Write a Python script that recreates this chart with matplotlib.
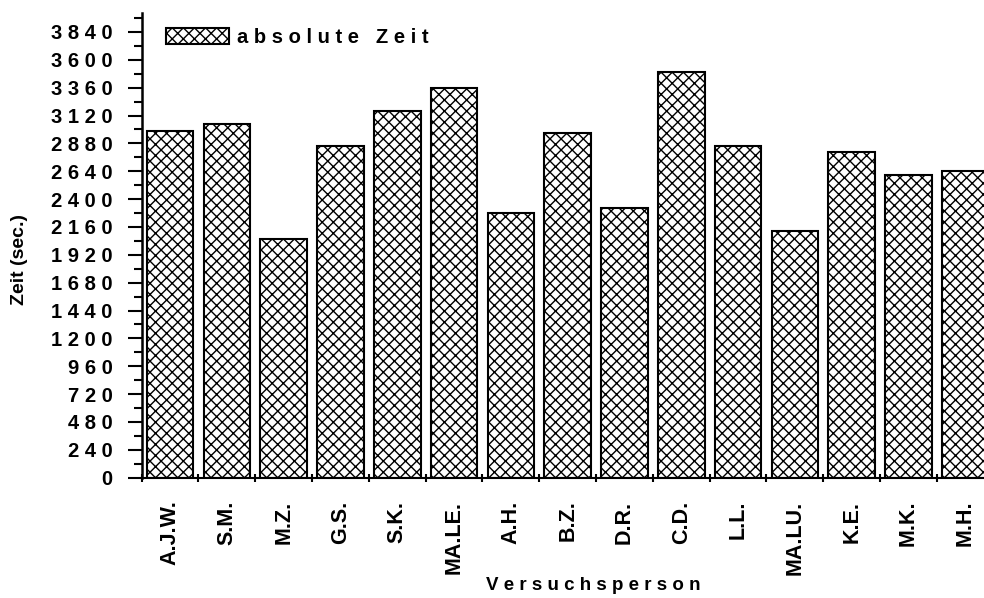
import numpy as np
import matplotlib
matplotlib.use("Agg")
import matplotlib.pyplot as plt
from matplotlib.ticker import MultipleLocator, FixedLocator

plt.rcParams['font.family'] = ['Liberation Sans', 'DejaVu Sans']
plt.rcParams['font.weight'] = 'bold'
plt.rcParams['hatch.linewidth'] = 1.0

# Daten: absolute Zeit je Versuchsperson (sec.)
personen = ['A.J.W.', 'S.M.', 'M.Z.', 'G.S.', 'S.K.', 'MA.LE.', 'A.H.', 'B.Z.',
            'D.R.', 'C.D.', 'L.L.', 'MA.LU.', 'K.E.', 'M.K.', 'M.H.']
zeiten = [2990, 3047, 2057, 2855, 3162, 3360, 2278, 2970,
          2321, 3498, 2858, 2123, 2809, 2611, 2640]
y_ticks = list(range(0, 3841, 240))


def spaced(s):
    return ' '.join(s)


fig = plt.figure(figsize=(9.84, 5.98), dpi=100)
ax = fig.add_axes([0.144, 0.2012, 1.0098 - 0.144, 0.7764])

x = np.arange(len(personen))
ax.bar(x, zeiten, width=0.82, color='white', edgecolor='black',
       linewidth=1.5, hatch='xxx', label='absolute Zeit')

ax.set_xlim(-0.5, len(personen) - 0.5)
ax.set_ylim(0, 4000)

# y-Achse
ax.yaxis.set_major_locator(FixedLocator(y_ticks))
ax.yaxis.set_minor_locator(MultipleLocator(120))
ax.set_yticklabels([spaced(str(v)) for v in y_ticks], fontsize=14.5, fontweight='bold')
ax.tick_params(axis='y', which='major', direction='out', length=10, width=1.5, pad=11)
ax.tick_params(axis='y', which='minor', direction='out', length=6, width=1.5)

# x-Achse
ax.set_xticks(x)
ax.set_xticklabels(personen, rotation=90, fontsize=15.5, fontweight='bold')
ax.set_xticks(np.arange(-0.5, len(personen), 1.0), minor=True)
ax.tick_params(axis='x', which='major', length=0, pad=16.5)
ax.tick_params(axis='x', which='minor', direction='inout', length=6, width=1.5)

for side in ['top', 'right']:
    ax.spines[side].set_visible(False)
ax.spines['left'].set_linewidth(1.8)
ax.spines['bottom'].set_linewidth(1.5)

fig.text(593 / 984, 1 - 585 / 598, spaced('Versuchsperson'), fontsize=13.5,
         fontweight='bold', ha='center', va='center')
fig.text(20 / 984, 1 - 260 / 598, 'Zeit (sec.)', fontsize=14, fontweight='bold',
         rotation=90, ha='center', va='center')

leg = ax.legend(loc='upper left', bbox_to_anchor=(156 / 984, 1 - 18 / 598),
                bbox_transform=fig.transFigure, frameon=False, borderpad=0,
                handlelength=3.1, handleheight=0.85, handletextpad=0.4,
                prop={'size': 14.5, 'weight': 'bold'})
leg.get_texts()[0].set_text('a b s o l u t e   Z e i t')

fig.savefig('out.png', dpi=100)
